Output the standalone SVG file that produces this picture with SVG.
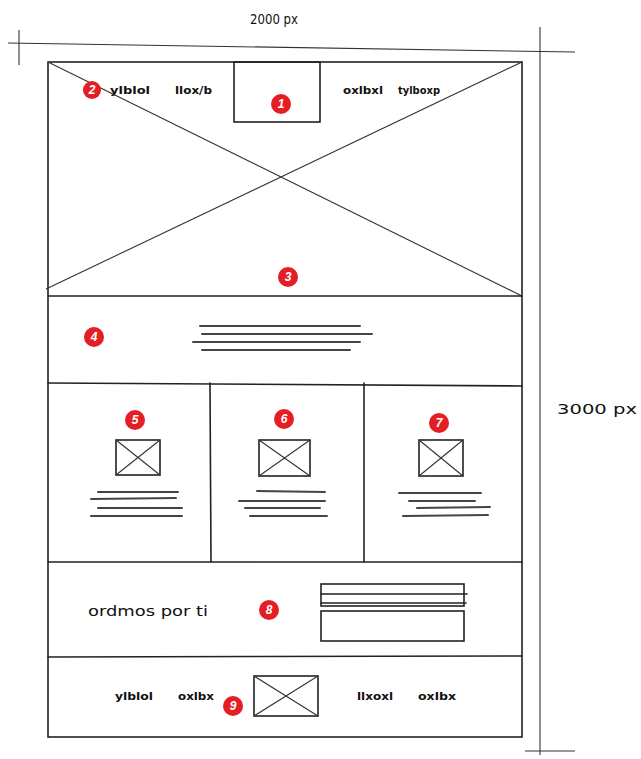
<svg xmlns="http://www.w3.org/2000/svg" width="641" height="759" viewBox="0 0 641 759">
<style>
.ln{stroke:#222;stroke-width:1.6;fill:none;stroke-linecap:round}
.thin{stroke:#333;stroke-width:1.1;fill:none}
.tx{stroke:#444;stroke-width:2;stroke-linecap:round}
.lbl{font-family:"DejaVu Sans Condensed","DejaVu Sans",sans-serif;font-size:10px;font-weight:bold;fill:#111}
.big{font-family:"DejaVu Sans Condensed","DejaVu Sans",sans-serif;font-size:14px;fill:#111}
.bd{fill:#e31e24}
.bn{font-family:"Liberation Sans",sans-serif;font-size:12px;font-weight:bold;font-style:italic;fill:#fff;text-anchor:middle}
</style>
<rect width="641" height="759" fill="#fff"/>
<g id="dimensions">
<line class="thin" x1="8" y1="43" x2="575" y2="52"/>
<line class="thin" x1="19" y1="30" x2="19" y2="65"/>
<line class="thin" x1="540" y1="27" x2="540" y2="755"/>
<line class="thin" x1="525" y1="751" x2="575" y2="751"/>
<text class="big" x="250" y="24" font-size="13" textLength="48" lengthAdjust="spacingAndGlyphs">2000 px</text>
<text class="big" x="557" y="414" font-size="13" textLength="80" lengthAdjust="spacingAndGlyphs">3000 px</text>
</g>
<g id="frame">
<rect class="ln" x="48" y="62" width="474" height="675" stroke-width="2"/>
</g>
<g id="hero">
<line class="thin" x1="48" y1="62" x2="522" y2="296"/>
<line class="thin" x1="522" y1="62" x2="46" y2="289"/>
<line class="ln" x1="48" y1="296" x2="522" y2="296"/>
<circle class="bd" cx="288" cy="277" r="10"/><text class="bn" x="288" y="281">3</text>
</g>
<g id="logo">
<rect class="ln" x="234" y="62" width="86" height="60" fill="#fff"/>
<circle class="bd" cx="281" cy="104" r="10"/><text class="bn" x="281" y="108">1</text>
</g>
<g id="nav">
<circle class="bd" cx="92" cy="90" r="9"/><text class="bn" x="92" y="94">2</text>
<text class="lbl" x="110" y="94" textLength="40" lengthAdjust="spacingAndGlyphs">ylblol</text>
<text class="lbl" x="175" y="94" textLength="37" lengthAdjust="spacingAndGlyphs">llox/b</text>
<text class="lbl" x="343" y="94" textLength="40" lengthAdjust="spacingAndGlyphs">oxlbxl</text>
<text class="lbl" x="398" y="94" textLength="42" lengthAdjust="spacingAndGlyphs">tylboxp</text>
</g>
<g id="intro">
<line class="ln" x1="48" y1="383" x2="522" y2="386"/>
<circle class="bd" cx="94" cy="337" r="10"/><text class="bn" x="94" y="341">4</text>
<line class="tx" x1="200" y1="326" x2="360" y2="326"/>
<line class="tx" x1="202" y1="334" x2="372" y2="334"/>
<line class="tx" x1="193" y1="342" x2="360" y2="342"/>
<line class="tx" x1="202" y1="350" x2="350" y2="350"/>
</g>
<g id="col1">
<line class="ln" x1="210" y1="383" x2="211" y2="562"/>
<circle class="bd" cx="135" cy="420" r="10"/><text class="bn" x="135" y="424">5</text>
<rect class="ln" x="116" y="440" width="44" height="35"/>
<line class="thin" x1="116" y1="440" x2="160" y2="475"/><line class="thin" x1="160" y1="440" x2="116" y2="475"/>
<line class="tx" x1="98" y1="492" x2="178" y2="492"/>
<line class="tx" x1="91" y1="499" x2="176" y2="498"/>
<line class="tx" x1="98" y1="508" x2="182" y2="508"/>
<line class="tx" x1="91" y1="516" x2="182" y2="516"/>
</g>
<g id="col2">
<line class="ln" x1="364" y1="383" x2="364" y2="562"/>
<circle class="bd" cx="284" cy="419" r="10"/><text class="bn" x="284" y="423">6</text>
<rect class="ln" x="259" y="440" width="51" height="36"/>
<line class="thin" x1="259" y1="440" x2="310" y2="476"/><line class="thin" x1="310" y1="440" x2="259" y2="476"/>
<line class="tx" x1="257" y1="491" x2="325" y2="492"/>
<line class="tx" x1="239" y1="501" x2="325" y2="501"/>
<line class="tx" x1="245" y1="508" x2="320" y2="508"/>
<line class="tx" x1="250" y1="516" x2="327" y2="516"/>
</g>
<g id="col3">
<circle class="bd" cx="439" cy="423" r="10"/><text class="bn" x="439" y="427">7</text>
<rect class="ln" x="419" y="440" width="44" height="36"/>
<line class="thin" x1="419" y1="440" x2="463" y2="476"/><line class="thin" x1="463" y1="440" x2="419" y2="476"/>
<line class="tx" x1="399" y1="493" x2="481" y2="493"/>
<line class="tx" x1="409" y1="501" x2="475" y2="501"/>
<line class="tx" x1="417" y1="508" x2="490" y2="507"/>
<line class="tx" x1="403" y1="516" x2="488" y2="515"/>
</g>
<g id="cta">
<line class="ln" x1="48" y1="562" x2="522" y2="562"/>
<text class="big" x="88" y="616" textLength="120" lengthAdjust="spacingAndGlyphs">ordmos por ti</text>
<circle class="bd" cx="269" cy="610" r="10"/><text class="bn" x="269" y="614">8</text>
<rect class="ln" x="321" y="584" width="143" height="22"/>
<line class="ln" x1="321" y1="594" x2="467" y2="594"/>
<line class="ln" x1="321" y1="603" x2="466" y2="603"/>
<rect class="ln" x="321" y="611" width="143" height="30"/>
</g>
<g id="footer">
<line class="ln" x1="48" y1="657" x2="522" y2="656"/>
<text class="lbl" x="115" y="700" textLength="38" lengthAdjust="spacingAndGlyphs">ylblol</text>
<text class="lbl" x="178" y="700" textLength="36" lengthAdjust="spacingAndGlyphs">oxlbx</text>
<circle class="bd" cx="233" cy="706" r="10"/><text class="bn" x="233" y="710">9</text>
<rect class="ln" x="254" y="676" width="64" height="40"/>
<line class="thin" x1="254" y1="676" x2="318" y2="716"/><line class="thin" x1="318" y1="676" x2="254" y2="716"/>
<text class="lbl" x="357" y="700" textLength="36" lengthAdjust="spacingAndGlyphs">llxoxl</text>
<text class="lbl" x="418" y="700" textLength="38" lengthAdjust="spacingAndGlyphs">oxlbx</text>
</g>
</svg>
